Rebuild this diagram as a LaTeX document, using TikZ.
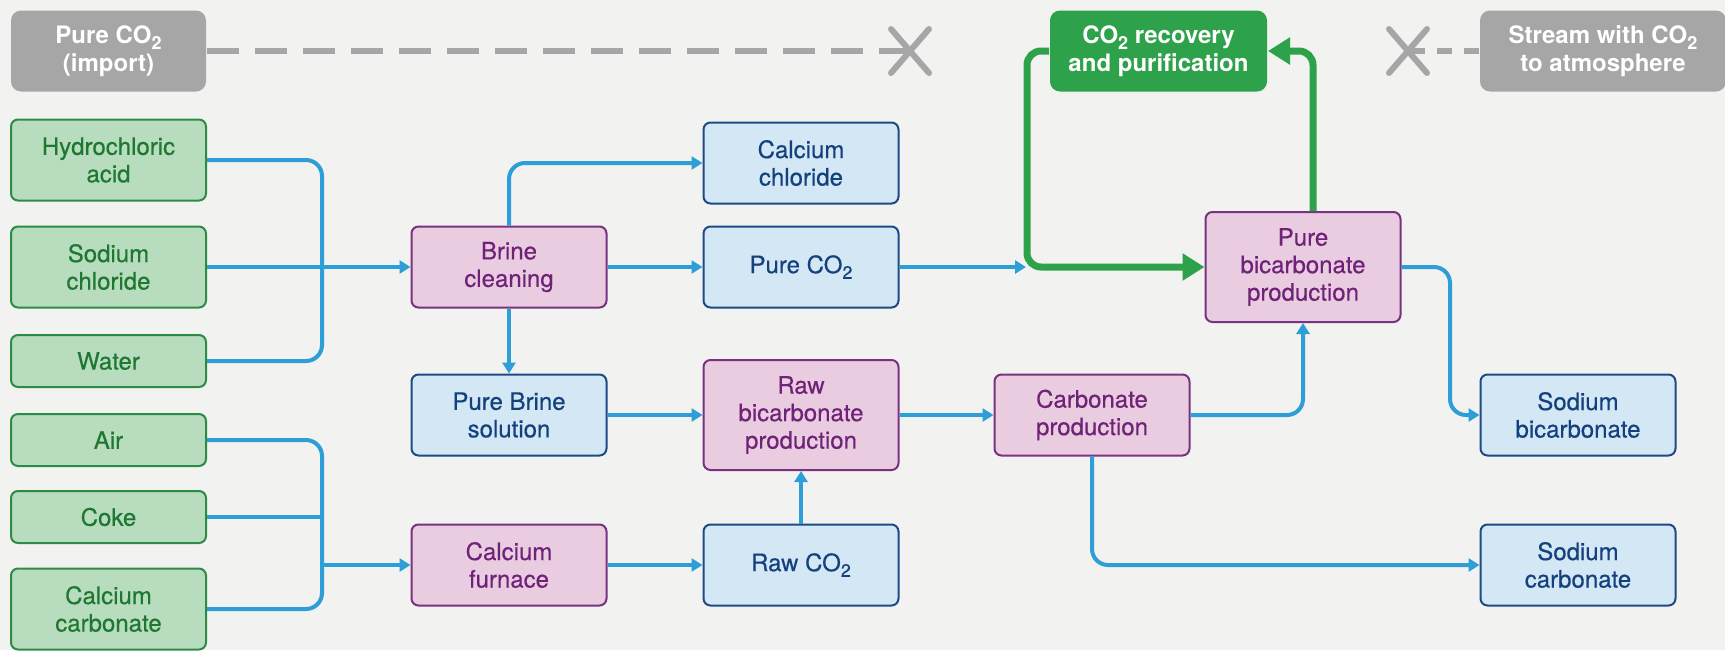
\documentclass[tikz,border=0pt]{standalone}
\usepackage{fontspec}
\setmainfont{TeX Gyre Heros}
\newfontfamily\boxfont{TeX Gyre Heros}[FakeBold=0.4]
\usetikzlibrary{arrows.meta, positioning}

\definecolor{bgcol}{HTML}{F2F2F0}
\definecolor{infill}{HTML}{B7DDBE}
\definecolor{inline}{HTML}{2C8C46}
\definecolor{intext}{HTML}{1E7832}
\definecolor{procfill}{HTML}{EACCE0}
\definecolor{procline}{HTML}{783282}
\definecolor{proctext}{HTML}{6E2378}
\definecolor{prodfill}{HTML}{D3E7F4}
\definecolor{prodline}{HTML}{1E4B87}
\definecolor{prodtext}{HTML}{14417D}
\definecolor{graybox}{HTML}{A6A6A6}
\definecolor{recgreen}{HTML}{2EA24A}
\definecolor{flowblue}{HTML}{2E9ED8}

\newcommand{\cotwo}{CO\raisebox{-0.45ex}{\fontsize{9}{9}\selectfont 2}}

\begin{document}
\begin{tikzpicture}[x=0.5pt, y=-0.5pt,
    box/.style={rectangle, rounded corners=3.5pt, line width=1pt, minimum width=97.5pt, minimum height=40.5pt, inner sep=1pt, align=center, font=\boxfont\fontsize{12}{13.75}\selectfont},
    input/.style={box, fill=infill, draw=inline, text=intext},
    process/.style={box, fill=procfill, draw=procline, text=proctext},
    product/.style={box, fill=prodfill, draw=prodline, text=prodtext},
    outside/.style={box, rounded corners=5pt, fill=graybox, text=white, font=\fontsize{12}{13.75}\selectfont\bfseries},
    flow/.style={draw=flowblue, line width=2pt, rounded corners=8pt},
    arrow/.style={flow, -{Triangle[length=5.5pt, width=6.5pt]}},
    recycle/.style={draw=recgreen, line width=3.5pt, rounded corners=7pt, -{Triangle[length=11pt, width=13pt]}},
    blocked/.style={draw=graybox, line width=3pt, dash pattern=on 16pt off 8pt},
    cross/.style={draw=graybox, line width=3pt, line cap=round}]

    \fill[bgcol] (0,0) rectangle (1725,650);
    \useasboundingbox (0,0) rectangle (1725,650);

    \node[outside] (imp) at (108.5,51) {Pure \cotwo\\(import)};
    \node[outside, fill=recgreen, minimum width=108.5pt] (rec) at (1158.5,51) {\cotwo{} recovery\\and purification};
    \node[outside, minimum width=123pt] (atm) at (1603,51) {Stream with \cotwo\\to atmosphere};

    \node[input] (hcl) at (108.5,160) {Hydrochloric\\acid};
    \node[input] (nacl) at (108.5,267) {Sodium\\chloride};
    \node[input, minimum height=26pt] (water) at (108.5,361) {Water};
    \node[input, minimum height=26pt] (air) at (108.5,440) {Air};
    \node[input, minimum height=26pt] (coke) at (108.5,517) {Coke};
    \node[input] (caco3) at (108.5,609) {Calcium\\carbonate};

    \node[process] (brine) at (509,267) {Brine\\cleaning};
    \node[product] (pbrine) at (509,415) {Pure Brine\\solution};
    \node[process] (furnace) at (509,565) {Calcium\\furnace};
    \node[product] (cacl) at (801,163) {Calcium\\chloride};
    \node[product] (pco2) at (801,267) {Pure \cotwo};
    \node[process, minimum height=55pt] (rawbic) at (801,415) {Raw\\bicarbonate\\production};
    \node[product] (rawco2) at (801,565) {Raw \cotwo};
    \node[process] (carb) at (1092,415) {Carbonate\\production};
    \node[process, minimum height=55pt] (purebic) at (1303,267) {Pure\\bicarbonate\\production};
    \node[product] (sbic) at (1578,415) {Sodium\\bicarbonate};
    \node[product] (sco2) at (1578,565) {Sodium\\carbonate};

    \coordinate (x1) at (910,51);
    \coordinate (x2) at (1408,51);
    \coordinate (j1) at (322,267);
    \coordinate (j2) at (322,565);
    \coordinate (merge) at (1027,267);
    \coordinate (turn) at (1450,340);

    \draw[blocked] (imp.east) -- (x1);
    \draw[cross] (x1) +(-19,-22) -- +(19,22) +(-19,22) -- +(19,-22);
    \draw[blocked, dash pattern=on 7.5pt off 6pt] (atm.west) -- (x2);
    \draw[cross] (x2) +(-19,-22) -- +(19,22) +(-19,22) -- +(19,-22);

    \draw[flow] (hcl.east) -| (j1) |- (water.east);
    \draw[arrow] (nacl.east) -- (brine.west);
    \draw[flow] (air.east) -| (j2) |- (caco3.east);
    \draw[flow] (coke.east) -- (coke.east -| j2);
    \draw[arrow] (j2) -- (furnace.west);

    \draw[arrow] (brine.north) |- (cacl.west);
    \draw[arrow] (brine) -- (pco2);
    \draw[arrow] (brine) -- (pbrine);
    \draw[arrow] (pbrine) -- (rawbic);
    \draw[arrow] (furnace) -- (rawco2);
    \draw[arrow] (rawco2) -- (rawbic);
    \draw[arrow] (rawbic) -- (carb);
    \draw[arrow] (carb.east) -| (purebic.south);
    \draw[arrow] (purebic.east) -| (turn) |- (sbic.west);
    \draw[arrow] (carb.south) |- (sco2.west);
    \draw[arrow] (pco2.east) -- ([xshift=-0.5pt]merge);

    \draw[recycle] (rec.west) -| (merge) -- (purebic.west);
    \draw[recycle] ([xshift=5pt]purebic.north) |- (rec.east);
\end{tikzpicture}
\end{document}
